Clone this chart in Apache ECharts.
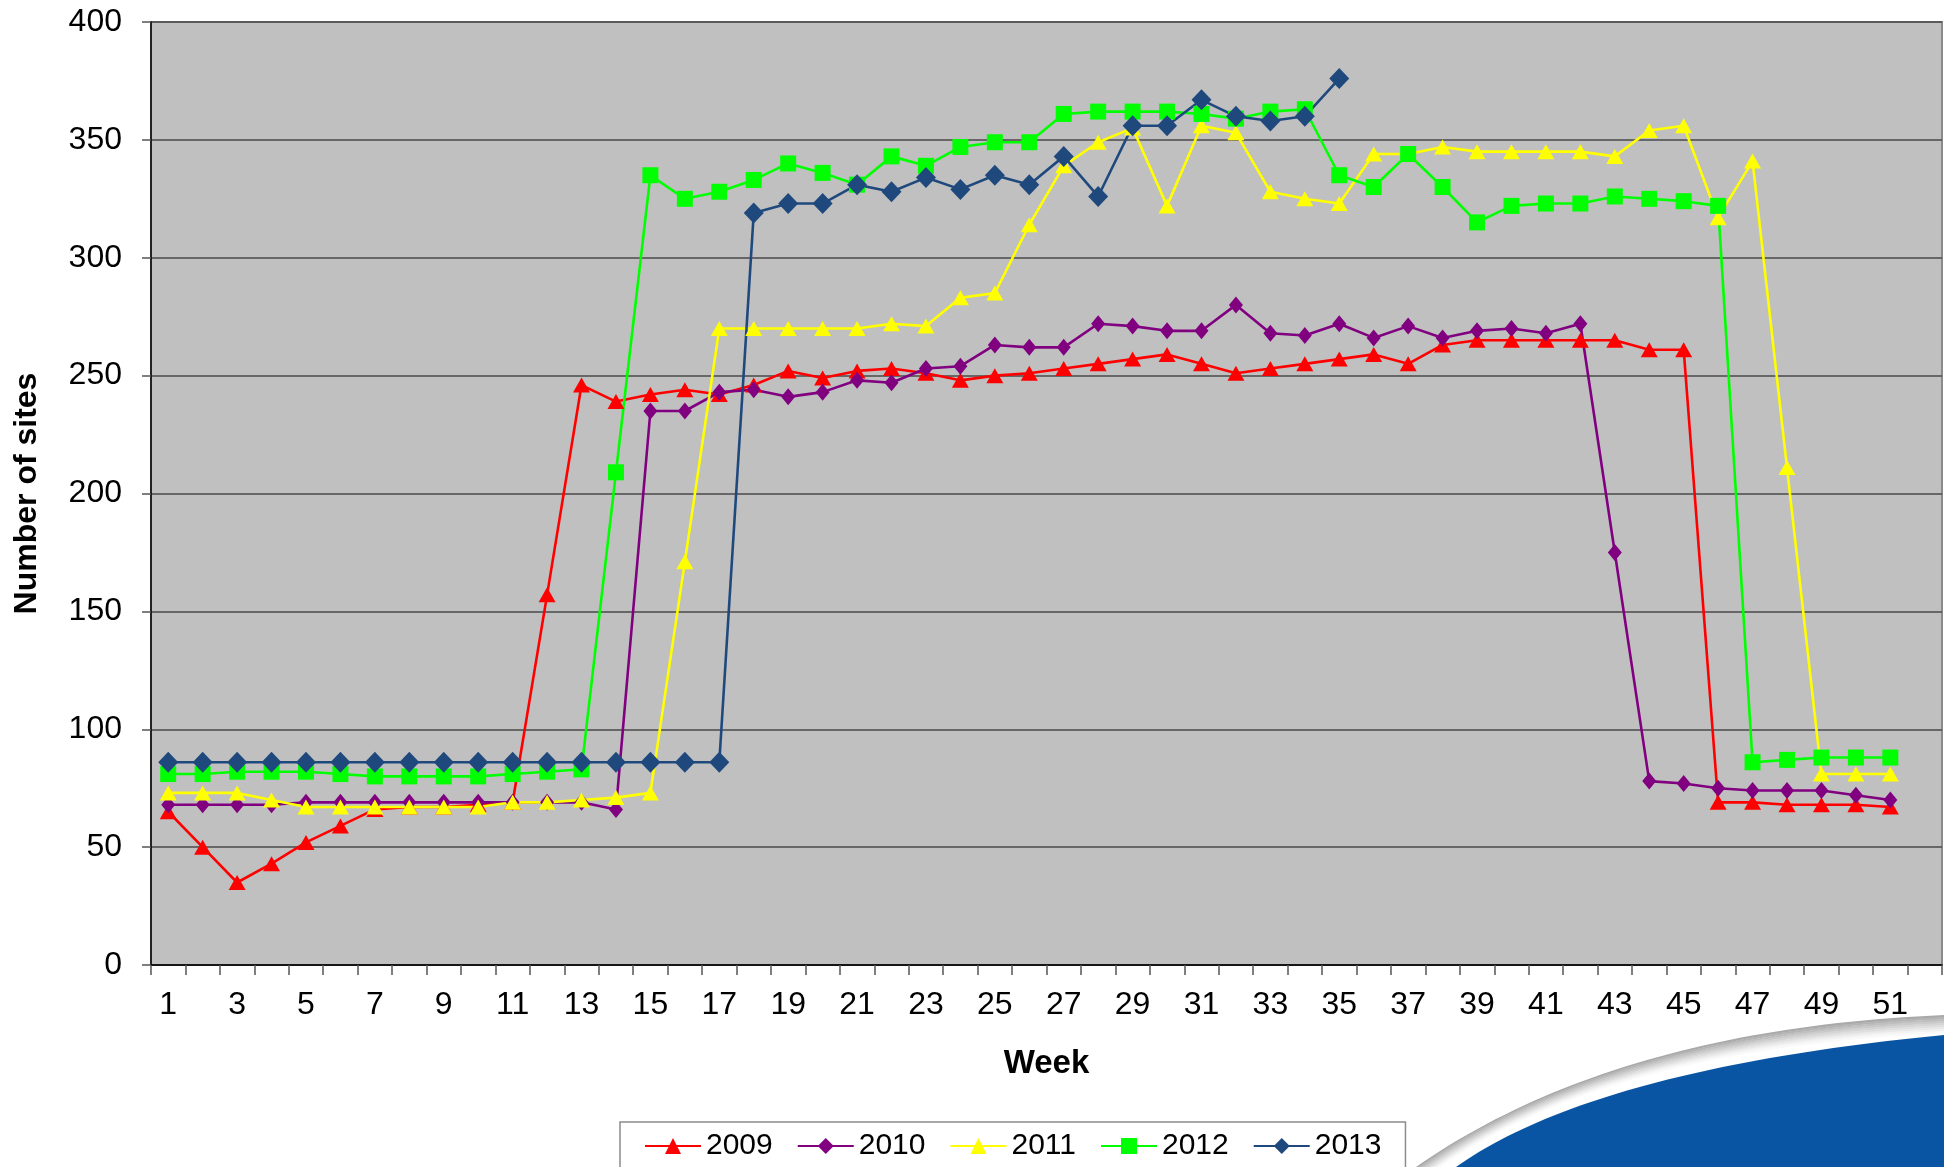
<!DOCTYPE html>
<html>
<head>
<meta charset="utf-8">
<script src="https://cdn.jsdelivr.net/npm/echarts@6/dist/echarts.min.js"></script>
<style>
  html, body { margin: 0; padding: 0; background: #ffffff; }
  #chart { width: 1944px; height: 1167px; }
</style>
</head>
<body>
<div id="chart"></div>
<script>
const weeks = ['1','2','3','4','5','6','7','8','9','10','11','12','13','14','15','16','17','18','19','20',
  '21','22','23','24','25','26','27','28','29','30','31','32','33','34','35','36','37','38','39','40',
  '41','42','43','44','45','46','47','48','49','50','51','52'];

const y2009 = [65,50,35,43,52,59,66,67,67,68,69,157,246,239,242,244,242,246,252,249,252,253,251,248,250,251,253,255,257,259,255,251,253,255,257,259,255,263,265,265,265,265,265,261,261,69,69,68,68,68,67];
const y2010 = [68,68,68,68,69,69,69,69,69,69,69,69,69,66,235,235,243,244,241,243,248,247,253,254,263,262,262,272,271,269,269,280,268,267,272,266,271,266,269,270,268,272,175,78,77,75,74,74,74,72,70];
const y2011 = [73,73,73,70,67,67,67,67,67,67,69,69,70,71,73,171,270,270,270,270,270,272,271,283,285,314,339,349,355,322,356,353,328,325,323,344,344,347,345,345,345,345,343,354,356,317,341,211,81,81,81];
const y2012 = [81,81,82,82,82,81,80,80,80,80,81,82,83,209,335,325,328,333,340,336,331,343,339,347,349,349,361,362,362,362,361,359,362,363,335,330,344,330,315,322,323,323,326,325,324,322,86,87,88,88,88];
const y2013 = [86,86,86,86,86,86,86,86,86,86,86,86,86,86,86,86,86,319,323,323,331,328,334,329,335,331,343,326,356,356,367,360,358,360,376];

const yTicks = { min: 0, max: 400, interval: 50 };

const FONT = 'Liberation Sans, Arial, sans-serif';

// decorative swoosh of the slide template (not data)
function quad(p0, c, p1, n) {
  const pts = [];
  for (let i = 0; i <= n; i++) {
    const t = i / n, u = 1 - t;
    pts.push([u*u*p0[0] + 2*u*t*c[0] + t*t*p1[0], u*u*p0[1] + 2*u*t*c[1] + t*t*p1[1]]);
  }
  return pts;
}
function shadowCurve(dy) {
  return quad([1416 + dy*1.3, 1167], [1614, 1029 + dy], [1944, 1015 + dy], 48);
}
const shadowShades = ['#a9a9a9','#b4b4b4','#bfbfbf','#cacaca','#d5d5d5','#dfdfdf','#e9e9e9','#f2f2f2','#f9f9f9'];
const swooshGraphics = [];
shadowShades.forEach(function (col, i) {
  const top = shadowCurve(i * 2);
  const bot = shadowCurve(i * 2 + 2.5);
  swooshGraphics.push({ type: 'polygon', z: 0, silent: true,
    shape: { points: top.concat(bot.slice().reverse()) }, style: { fill: col } });
});
swooshGraphics.push({ type: 'polygon', z: 0, silent: true,
  shape: { points: quad([1456,1167],[1594,1069],[1944,1035],48).concat([[1944,1167]]) },
  style: { fill: '#0A55A3' } });

function mkSeries(name, data, color, symbol, size) {
  return {
    name: name, type: 'line', data: data, symbol: symbol, symbolSize: size, showSymbol: true,
    lineStyle: { color: color, width: 2.6 }, itemStyle: { color: color }, emphasis: { disabled: true }
  };
}

const chart = echarts.init(document.getElementById('chart'), null, { renderer: 'canvas' });
chart.setOption({
  animation: false,
  backgroundColor: '#ffffff',
  textStyle: { fontFamily: FONT },
  grid: {
    left: 151, right: 2, top: 22, bottom: 202,
    show: true, backgroundColor: '#C0C0C0', borderColor: '#8a8a8a', borderWidth: 2
  },
  graphic: swooshGraphics,
  legend: {
    left: 620, top: 1122, padding: [9, 24, 20, 24], itemGap: 24, itemWidth: 56, itemHeight: 20,
    borderColor: '#8c8c8c', borderWidth: 1.5, backgroundColor: '#ffffff',
    textStyle: { fontSize: 30, color: '#000', fontFamily: FONT },
    data: ['2009', '2010', '2011', '2012', '2013']
  },
  xAxis: {
    type: 'category', data: weeks, boundaryGap: true,
    name: 'Week', nameLocation: 'middle', nameGap: 82,
    nameTextStyle: { fontSize: 33, fontWeight: 'bold', color: '#000', fontFamily: FONT },
    axisLine: { show: true, lineStyle: { color: '#000', width: 1.5 } },
    axisTick: { show: true, interval: 0, length: 10, lineStyle: { color: '#555', width: 1.5 } },
    axisLabel: { interval: 1, fontSize: 32, color: '#000', margin: 24, fontFamily: FONT },
    splitLine: { show: false }
  },
  yAxis: {
    type: 'value', min: yTicks.min, max: yTicks.max, interval: yTicks.interval,
    name: 'Number of sites', nameLocation: 'middle', nameGap: 108,
    nameTextStyle: { fontSize: 32, fontWeight: 'bold', color: '#000', fontFamily: FONT },
    axisLine: { show: true, lineStyle: { color: '#000', width: 1.5 } },
    axisTick: { show: true, length: 9, lineStyle: { color: '#555', width: 1.5 } },
    axisLabel: { fontSize: 32, color: '#000', margin: 29, fontFamily: FONT },
    splitLine: { show: true, lineStyle: { color: '#4a4a4a', width: 1.5 } }
  },
  series: [
    mkSeries('2009', y2009, '#FF0000', 'triangle', [17, 15]),
    mkSeries('2010', y2010, '#800080', 'diamond', [14, 17]),
    mkSeries('2011', y2011, '#FFFF00', 'triangle', [17, 15]),
    mkSeries('2012', y2012, '#00FF00', 'rect', [16, 16]),
    mkSeries('2013', y2013, '#1F497D', 'diamond', [20, 21])
  ]
});
</script>
</body>
</html>
